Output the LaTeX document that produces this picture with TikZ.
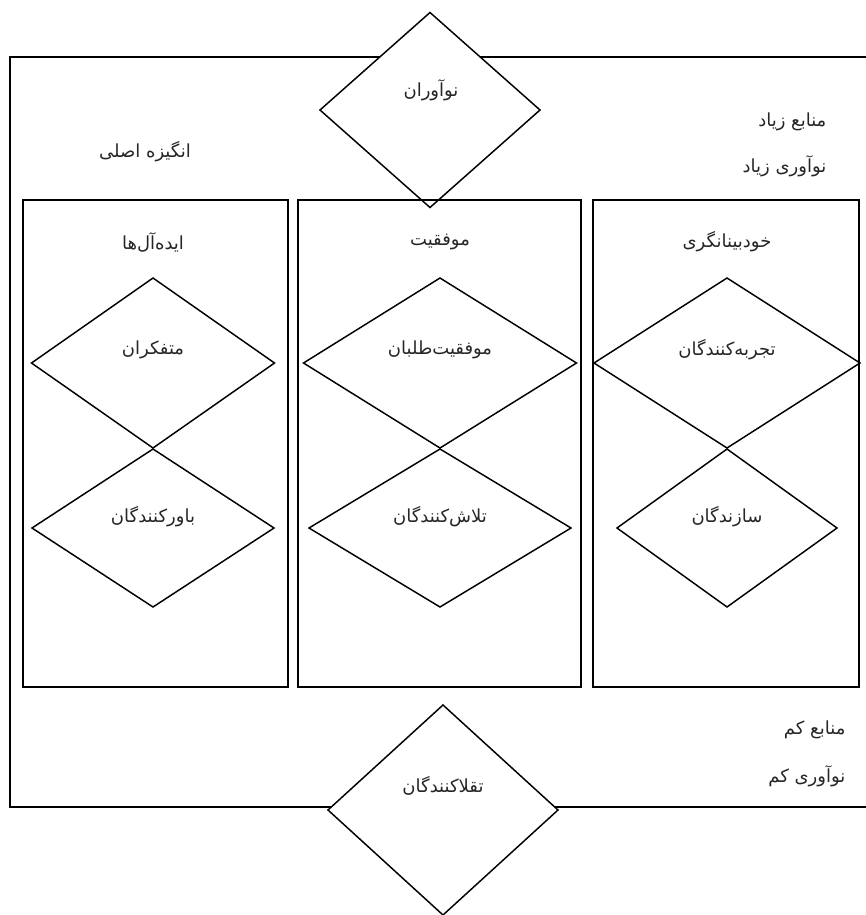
\documentclass[tikz,border=0pt]{standalone}
\usepackage{fontspec}
\usetikzlibrary{shapes.geometric}
\newfontfamily\farsi[Script=Arabic]{DejaVu Sans}
\TeXXeTstate=1
\newcommand{\fa}[1]{\beginR #1\endR}
\newcommand{\pxu}{0.75pt}

\tikzset{
  frame/.style={draw=black,line width=1.1pt},
  dia/.style 2 args={diamond,draw=black,line width=1.1pt,inner sep=0pt,outer sep=0pt,
    minimum width=#1*\pxu,minimum height=#2*\pxu},
  colbox/.style={rectangle,draw=black,line width=1.1pt,inner sep=0pt,outer sep=0pt,
    minimum width=#1*\pxu,minimum height=487*\pxu},
  lbl/.style={font=\farsi\fontsize{13.5}{16}\selectfont,inner sep=1pt,text=black!85},
}

\begin{document}
\begin{tikzpicture}[x=\pxu,y=-\pxu]
  \useasboundingbox (0,0) rectangle (865,915);
  % outer frame
  \draw[frame] (866,57) -- (10,57) -- (10,807) -- (866,807);
  \node[dia={220}{195},fill=white] (dtop) at (430,110) {};
  \node[lbl] (ttop) at (431,90) {\fa{نوآوران}};
  \node[dia={230}{210},fill=white] (dbot) at (443,810) {};
  \node[lbl] (tbot) at (443,786) {\fa{تقلاکنندگان}};
  % corner texts
  \node[lbl,anchor=east] (hires) at (828,122) {\fa{منابع زیاد}};
  \node[lbl,anchor=east] (hiinn) at (828,166) {\fa{نوآوری زیاد}};
  \node[lbl,anchor=east] (lores) at (847,730) {\fa{منابع کم}};
  \node[lbl,anchor=east] (loinn) at (847,776) {\fa{نوآوری کم}};
  \node[lbl] (motive) at (145,152) {\fa{انگیزه اصلی}};
  % three columns
  \foreach \nm/\bx/\bw/\cx/\uw/\lw/\title/\up/\low in {
      L/155.5/265/153/243/242/ایده‌آل‌ها/متفکران/باورکنندگان,
      M/439.5/283/440/273/262/موفقیت/موفقیت‌طلبان/تلاش‌کنندگان,
      R/726/266/727/266/220/خودبینانگری/تجربه‌کنندگان/سازندگان} {
    \node[colbox=\bw] (box\nm) at (\bx,443.5) {};
    \node[dia={\uw}{170}] (up\nm) at (\cx,363) {};
    \node[dia={\lw}{158}] (low\nm) at (\cx,528) {};
    \node[lbl] (title\nm) at (\cx,242) {\fa{\title}};
    \node[lbl] (tup\nm) at (\cx,350) {\fa{\up}};
    \node[lbl] (tlow\nm) at (\cx,517) {\fa{\low}};
  }
\end{tikzpicture}
\end{document}
